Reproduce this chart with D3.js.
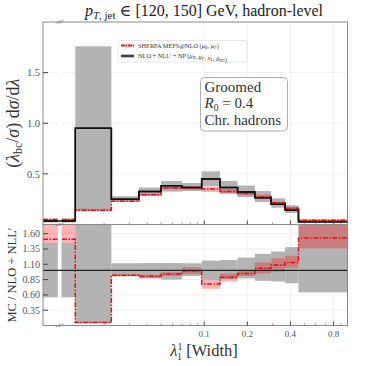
<!DOCTYPE html>
<html>
<head>
<script src="https://d3js.org/d3.v7.min.js"></script>
<style>
  body { margin: 0; background: #fff; }
  text { font-family: "Liberation Serif", "DejaVu Serif", serif; }
</style>
</head>
<body>
<script>
// bin edges in lambda (first bin is the underflow bin, shown left of the axis break)
var binEdges = [0.0075, 0.0126, 0.0225, 0.035, 0.05, 0.07, 0.096, 0.129, 0.171, 0.226, 0.293, 0.367, 0.455, 1.0];
var breakAt = 0.0098;

// main panel: NLO + NLL' + NP
var nllCentral = [0.035, 0.95, 0.25, 0.326, 0.382, 0.365, 0.45, 0.365, 0.32, 0.265, 0.2, 0.14, 0.027];
var nllLow     = [0.02, 0.14, 0.228, 0.285, 0.325, 0.33, 0.38, 0.307, 0.27, 0.222, 0.166, 0.112, 0.017];
var nllHigh    = [0.05, 1.76, 0.28, 0.365, 0.43, 0.41, 0.525, 0.43, 0.385, 0.33, 0.258, 0.19, 0.05];
// main panel: SHERPA MEPS@NLO
var mcCentral  = [0.05, 0.14, 0.23, 0.295, 0.36, 0.36, 0.35, 0.325, 0.305, 0.275, 0.214, 0.16, 0.041];
var mcLow      = [0.045, 0.13, 0.225, 0.287, 0.35, 0.345, 0.32, 0.305, 0.29, 0.262, 0.2, 0.148, 0.036];
var mcHigh     = [0.06, 0.155, 0.235, 0.303, 0.37, 0.375, 0.375, 0.35, 0.325, 0.295, 0.228, 0.172, 0.048];

// ratio panel
var ratioNllLow  = [0.56, 0.14, 0.91, 0.87, 0.85, 0.905, 0.84, 0.86, 0.87, 0.83, 0.82, 0.79, 0.64];
var ratioNllHigh = [1.45, 1.85, 1.116, 1.12, 1.12, 1.116, 1.16, 1.17, 1.21, 1.27, 1.31, 1.38, 1.85];
var ratioMc      = [1.51, 0.15, 0.92, 0.905, 0.94, 0.99, 0.78, 0.89, 0.95, 1.035, 1.09, 1.13, 1.53];
var ratioMcLow   = [1.45, 0.14, 0.9, 0.88, 0.91, 0.94, 0.70, 0.82, 0.91, 0.95, 0.98, 1.04, 1.36];
var ratioMcHigh  = [1.8, 0.16, 0.94, 0.93, 0.97, 1.05, 0.84, 0.95, 1.0, 1.13, 1.2, 1.24, 1.8];

var xMajor = [0.1, 0.2, 0.4, 0.8];
var xMinor = [0.02, 0.03, 0.04, 0.05, 0.06, 0.07, 0.08, 0.09, 0.3, 0.5, 0.6, 0.7, 0.9];
var yMainTicks = [0.5, 1.0, 1.5];
var yRatioTicks = [0.35, 0.60, 0.85, 1.10, 1.35, 1.60];

var red = "#e0111b";
var grayBand = "#b3b3b3";

var svg = d3.select("body").append("svg")
    .attr("width", 366)
    .attr("height", 366);

var left = 43, right = 347.5, mainTop = 22, mainBottom = 224.5, ratioBottom = 325.5;

var x = d3.scaleLog().domain([binEdges[0], binEdges[binEdges.length - 1]]).range([left, right]);
var yMain = d3.scaleLinear().domain([0, 2]).range([mainBottom, mainTop]);
var yRatio = d3.scaleLinear().domain([0.1, 1.75]).range([ratioBottom, mainBottom]);

var defs = svg.append("defs");
defs.append("clipPath").attr("id", "clipMain").append("rect")
    .attr("x", left).attr("y", mainTop).attr("width", right - left).attr("height", mainBottom - mainTop);
defs.append("clipPath").attr("id", "clipRatio").append("rect")
    .attr("x", left).attr("y", mainBottom).attr("width", right - left).attr("height", ratioBottom - mainBottom);

var bins = d3.range(nllCentral.length);

function drawPanel(g, y, ticks, lo, hi, mlo, mhi, mc, nll) {
    // grid
    g.selectAll(".vg").data(xMajor).enter().append("line")
        .attr("x1", d => x(d)).attr("x2", d => x(d))
        .attr("y1", y.range()[1]).attr("y2", y.range()[0])
        .attr("stroke", "#ececec").attr("stroke-width", 0.8);
    g.selectAll(".hg").data(ticks).enter().append("line")
        .attr("x1", left).attr("x2", right)
        .attr("y1", d => y(d)).attr("y2", d => y(d))
        .attr("stroke", "#ececec").attr("stroke-width", 0.8);

    var c = g.append("g");
    // gray band
    c.selectAll(".gb").data(bins).enter().append("rect")
        .attr("x", i => x(binEdges[i])).attr("width", i => x(binEdges[i + 1]) - x(binEdges[i]))
        .attr("y", i => y(hi[i])).attr("height", i => y(lo[i]) - y(hi[i]))
        .attr("fill", grayBand);
    // pink band
    c.selectAll(".pb").data(bins).enter().append("rect")
        .attr("x", i => x(binEdges[i])).attr("width", i => x(binEdges[i + 1]) - x(binEdges[i]))
        .attr("y", i => y(mhi[i])).attr("height", i => y(mlo[i]) - y(mhi[i]))
        .attr("fill", "#ff0000").attr("fill-opacity", 0.3);

    var line = d3.line().curve(d3.curveStepAfter).x(d => x(d[0])).y(d => y(d[1]));
    function pts(v) { return binEdges.map((e, i) => [e, v[Math.min(i, v.length - 1)]]); }

    if (nll) {
        c.append("path").attr("d", line(pts(nll)))
            .attr("fill", "none").attr("stroke", "#111").attr("stroke-width", 1.5);
    }
    c.append("path").attr("d", line(pts(mc)))
        .attr("fill", "none").attr("stroke", red).attr("stroke-width", 1.5)
        .attr("stroke-dasharray", "5,1.5,1.5,1.5");

    // axis break gap
    c.append("rect")
        .attr("x", x(breakAt) - 1.8).attr("width", 3.6)
        .attr("y", y.range()[1]).attr("height", y.range()[0] - y.range()[1])
        .attr("fill", "#fff");
    return c;
}

var gMain = svg.append("g").attr("clip-path", "url(#clipMain)");
drawPanel(gMain, yMain, yMainTicks, nllLow, nllHigh, mcLow, mcHigh, mcCentral, nllCentral);
// re-draw black main line over the gap
gMain.append("path")
    .attr("d", d3.line().curve(d3.curveStepAfter).x(d => x(d[0])).y(d => yMain(d[1]))(
        binEdges.map((e, i) => [e, nllCentral[Math.min(i, nllCentral.length - 1)]])))
    .attr("fill", "none").attr("stroke", "#111").attr("stroke-width", 1.5);

var gRatio = svg.append("g").attr("clip-path", "url(#clipRatio)");
drawPanel(gRatio, yRatio, yRatioTicks, ratioNllLow, ratioNllHigh, ratioMcLow, ratioMcHigh, ratioMc, null);
gRatio.append("line")
    .attr("x1", left).attr("x2", right)
    .attr("y1", yRatio(1)).attr("y2", yRatio(1))
    .attr("stroke", "#222").attr("stroke-width", 1.1);

// frames
[[mainTop, mainBottom], [mainBottom, ratioBottom]].forEach(function(p) {
    svg.append("rect").attr("x", left).attr("y", p[0])
        .attr("width", right - left).attr("height", p[1] - p[0])
        .attr("fill", "none").attr("stroke", "#8a8a8a").attr("stroke-width", 1);
});

// y ticks
function yTicks(y, ticks, fmt, size) {
    var g = svg.append("g");
    g.selectAll("line").data(ticks).enter().append("line")
        .attr("x1", left).attr("x2", left + 5)
        .attr("y1", d => y(d)).attr("y2", d => y(d))
        .attr("stroke", "#444").attr("stroke-width", 1);
    g.selectAll("text").data(ticks).enter().append("text")
        .attr("x", left - 3).attr("y", d => y(d)).attr("dy", "0.35em")
        .attr("text-anchor", "end").attr("font-size", size).attr("fill", "#555")
        .text(d => d3.format(fmt)(d));
}
yTicks(yMain, yMainTicks, ".1f", 10.5);
yTicks(yRatio, yRatioTicks, ".2f", 10);

// x ticks (pointing up) at bottom of both panels
[mainBottom, ratioBottom].forEach(function(yb) {
    svg.append("g").selectAll("line").data(xMajor).enter().append("line")
        .attr("x1", d => x(d)).attr("x2", d => x(d))
        .attr("y1", yb).attr("y2", yb - 4)
        .attr("stroke", "#444").attr("stroke-width", 1);
    svg.append("g").selectAll("line").data(xMinor).enter().append("line")
        .attr("x1", d => x(d)).attr("x2", d => x(d))
        .attr("y1", yb).attr("y2", yb - 2)
        .attr("stroke", "#666").attr("stroke-width", 0.7);
});
svg.append("g").selectAll("text").data(xMajor).enter().append("text")
    .attr("x", d => x(d)).attr("y", ratioBottom + 11)
    .attr("text-anchor", "middle").attr("font-size", 9).attr("fill", "#555")
    .text(d => d);

// break marks
[mainTop, mainBottom, ratioBottom].forEach(function(yb) {
    var bx = x(breakAt);
    [-1.5, 1.5].forEach(function(o) {
        svg.append("line")
            .attr("x1", bx + o - 2.5).attr("y1", yb + 1.5)
            .attr("x2", bx + o + 2.5).attr("y2", yb - 1.5)
            .attr("stroke", "#777").attr("stroke-width", 0.8);
    });
});

// title
var title = svg.append("text").attr("x", 204).attr("y", 16)
    .attr("text-anchor", "middle").attr("font-size", 16).attr("fill", "#222");
title.append("tspan").attr("font-style", "italic").text("p");
title.append("tspan").attr("font-size", 11).attr("dy", 3).attr("font-style", "italic").text("T");
title.append("tspan").attr("font-size", 11).text(", jet");
title.append("tspan").attr("dy", -3).text(" \u2208 [120, 150] GeV, hadron-level");

// main y label
var yl = svg.append("text").attr("transform", "translate(19," + ((mainTop + mainBottom) / 2) + ") rotate(-90)")
    .attr("text-anchor", "middle").attr("font-size", 18).attr("fill", "#333");
yl.append("tspan").text("(");
yl.append("tspan").attr("font-style", "italic").text("\u03bb");
yl.append("tspan").attr("font-size", 12).attr("dy", 3).text("bc");
yl.append("tspan").attr("dy", -3).text("/");
yl.append("tspan").attr("font-style", "italic").text("\u03c3");
yl.append("tspan").text(") d");
yl.append("tspan").attr("font-style", "italic").text("\u03c3");
yl.append("tspan").text("/d");
yl.append("tspan").attr("font-style", "italic").text("\u03bb");

// ratio y label
svg.append("text").attr("transform", "translate(16," + ((mainBottom + ratioBottom) / 2) + ") rotate(-90)")
    .attr("text-anchor", "middle").attr("font-size", 12.5).attr("fill", "#333")
    .text("MC / NLO + NLL\u2032");

// x label
var xl = svg.append("text").attr("x", 204).attr("y", 356)
    .attr("text-anchor", "middle").attr("font-size", 16.5).attr("fill", "#333");
xl.append("tspan").attr("font-style", "italic").text("\u03bb");
xl.append("tspan").attr("font-size", 10).attr("dy", -6).text("1");
xl.append("tspan").attr("font-size", 10).attr("dx", -5).attr("dy", 10).text("1");
xl.append("tspan").attr("dy", -4).text(" [Width]");

// legend
var leg = svg.append("g");
leg.append("rect").attr("x", 118).attr("y", 40.5).attr("width", 129).attr("height", 21.5)
    .attr("rx", 2).attr("fill", "#fff").attr("fill-opacity", 0.85)
    .attr("stroke", "#e0e0e0").attr("stroke-width", 0.8);
var legendItems = [
    {band: "#ff0000", op: 0.3, color: red, dash: "4,1,1,1", y: 45.5},
    {band: grayBand, op: 1, color: "#111", dash: null, y: 56}
];
legendItems.forEach(function(d) {
    leg.append("rect").attr("x", 121).attr("y", d.y - 1.8).attr("width", 13).attr("height", 3.6)
        .attr("fill", d.band).attr("fill-opacity", d.op);
    leg.append("line").attr("x1", 121).attr("x2", 134).attr("y1", d.y).attr("y2", d.y)
        .attr("stroke", d.color).attr("stroke-width", 1.4)
        .attr("stroke-dasharray", d.dash);
});
var t1 = leg.append("text").attr("x", 138).attr("y", 47.6).attr("font-size", 6.3).attr("fill", "#333");
t1.append("tspan").text("SHERPA MEPS@NLO (");
t1.append("tspan").attr("font-style", "italic").text("\u03bc");
t1.append("tspan").attr("font-size", 4.5).attr("dy", 1).attr("font-style", "italic").text("R");
t1.append("tspan").attr("dy", -1).text(", ");
t1.append("tspan").attr("font-style", "italic").text("\u03bc");
t1.append("tspan").attr("font-size", 4.5).attr("dy", 1).attr("font-style", "italic").text("F");
t1.append("tspan").attr("dy", -1).text(")");
var t2 = leg.append("text").attr("x", 138).attr("y", 58.1).attr("font-size", 6.3).attr("fill", "#333");
t2.append("tspan").text("NLO + NLL\u2032 + NP (");
[["\u03bc", "R"], ["\u03bc", "F"], ["x", "L"], ["\u03b4", "NP"]].forEach(function(s, i) {
    if (i > 0) t2.append("tspan").text(", ");
    t2.append("tspan").attr("font-style", "italic").text(s[0]);
    t2.append("tspan").attr("font-size", 4.5).attr("dy", 1).attr("font-style", "italic").text(s[1]);
    t2.append("tspan").attr("dy", -1).text("");
});
t2.append("tspan").text(")");

// info box
var info = svg.append("g");
info.append("rect").attr("x", 200.5).attr("y", 77.5).attr("width", 87).attr("height", 53.5)
    .attr("rx", 4).attr("fill", "#fff").attr("stroke", "#999").attr("stroke-width", 0.8);
var lines = ["Groomed", null, "Chr. hadrons"];
var infoY = [92, 108, 124.5];
lines.forEach(function(s, i) {
    var t = info.append("text").attr("x", 204.5).attr("y", infoY[i])
        .attr("font-size", 15).attr("fill", "#333");
    if (s) { t.text(s); return; }
    t.append("tspan").attr("font-style", "italic").text("R");
    t.append("tspan").attr("font-size", 9.5).attr("dy", 2.5).text("0");
    t.append("tspan").attr("dy", -2.5).text(" = 0.4");
});
</script>
</body>
</html>
